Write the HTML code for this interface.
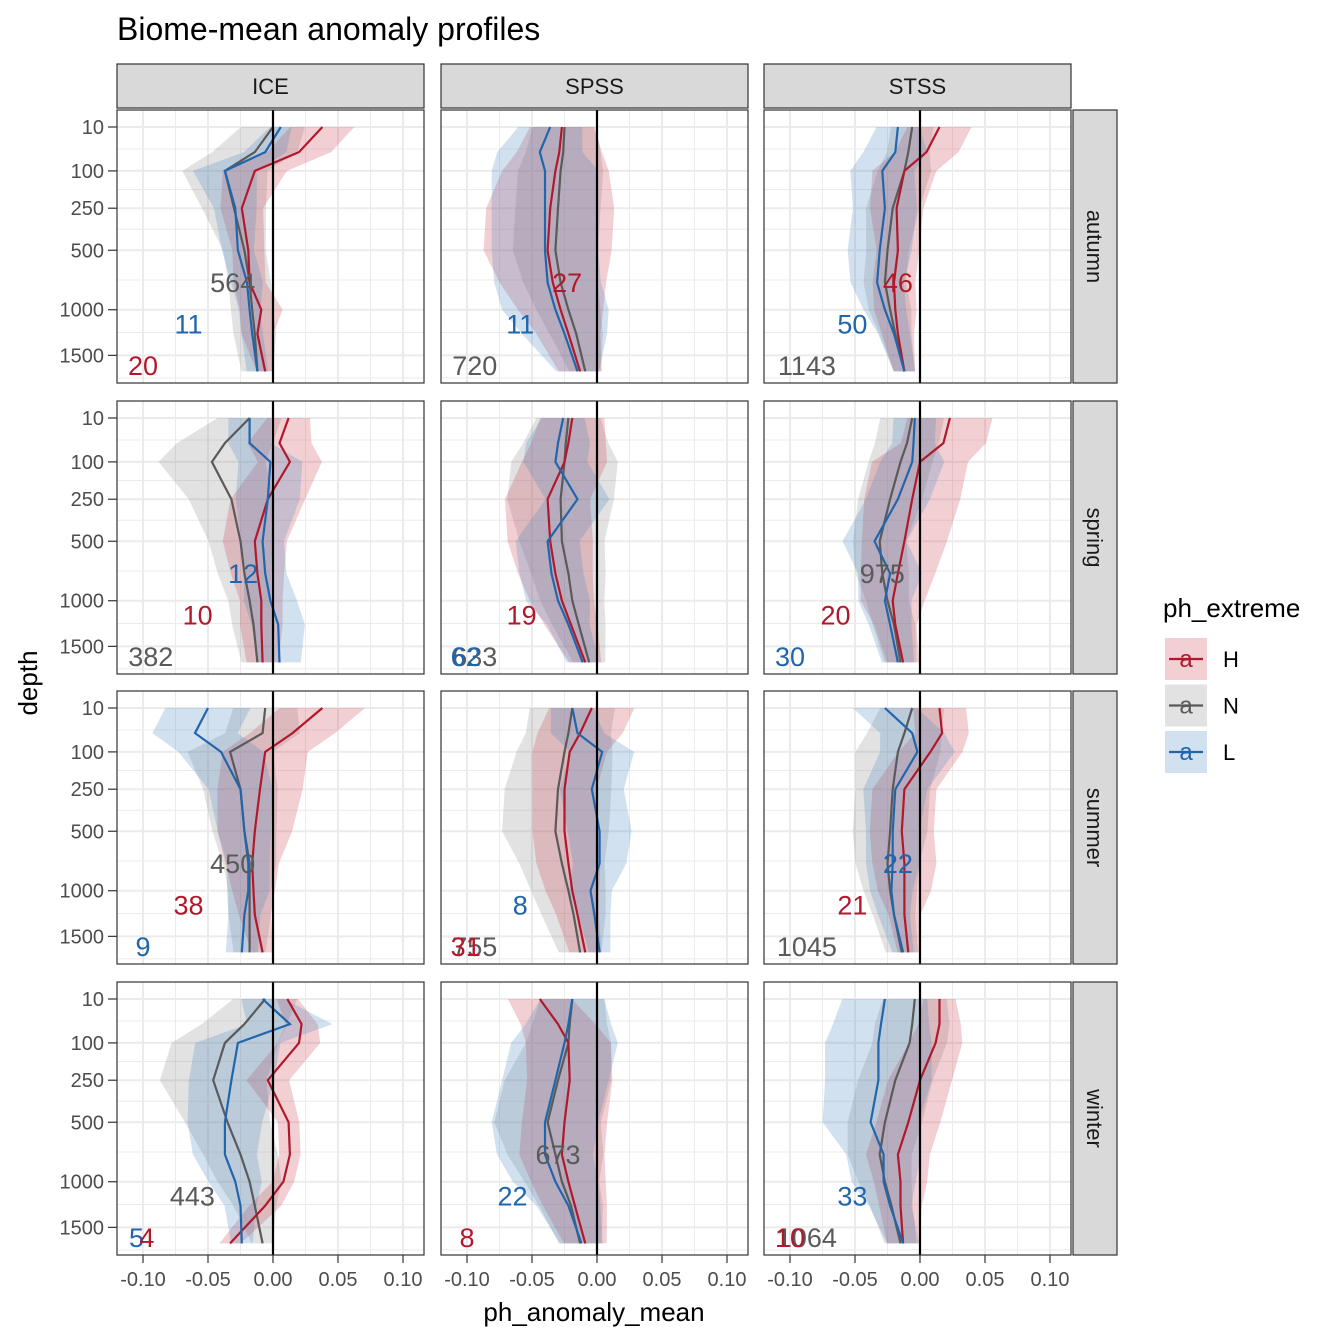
<!DOCTYPE html>
<html><head><meta charset="utf-8"><style>
body{margin:0;background:#fff;}
svg{display:block;font-family:"Liberation Sans",sans-serif;}
</style></head><body>
<svg id="chart" width="1344" height="1344" viewBox="0 0 1344 1344">
<rect width="1344" height="1344" fill="#fff"/>
<text x="117" y="40" font-size="32" fill="#000">Biome-mean anomaly profiles</text>
<text x="594" y="1321" font-size="26" text-anchor="middle" fill="#000">ph_anomaly_mean</text>
<text transform="translate(37,683) rotate(-90)" font-size="26" text-anchor="middle" fill="#000">depth</text>
<g id="panels"></g>
<g id="legend"></g>
</svg>
<script>
const depths = [10, 50, 100, 250, 500, 750, 1000, 1250, 1700];
const biomes = ["ICE", "SPSS", "STSS"];
const seasons = ["autumn", "spring", "summer", "winter"];
const groups = ["H", "N", "L"];
const xTicks = [-0.10, -0.05, 0.00, 0.05, 0.10];
const xTickLabels = ["-0.10", "-0.05", "0.00", "0.05", "0.10"];
const yTicks = [10, 100, 250, 500, 1000, 1500];

const meanAutumnICE = {H:[0.038,0.02,-0.014,-0.024,-0.019,-0.018,-0.009,-0.012,-0.006], N:[0,-0.014,-0.037,-0.03,-0.022,-0.018,-0.016,-0.014,-0.012], L:[0.006,-0.006,-0.037,-0.029,-0.027,-0.02,-0.018,-0.016,-0.012]};
const sdAutumnICE = {H:[0.03,0.03,0.03,0.02,0.015,0.015,0.02,0.015,0.008], N:[0.03,0.04,0.04,0.03,0.02,0.02,0.02,0.02,0.015], L:[0.01,0.02,0.03,0.02,0.015,0.015,0.01,0.01,0.01]};
const meanAutumnSPSS = {H:[-0.027,-0.029,-0.032,-0.036,-0.038,-0.034,-0.028,-0.022,-0.013], N:[-0.025,-0.026,-0.028,-0.03,-0.032,-0.028,-0.022,-0.016,-0.009], L:[-0.036,-0.044,-0.04,-0.04,-0.04,-0.038,-0.032,-0.025,-0.015]};
const sdAutumnSPSS = {H:[0.03,0.04,0.05,0.06,0.06,0.05,0.04,0.03,0.02], N:[0.03,0.035,0.04,0.04,0.04,0.035,0.03,0.025,0.015], L:[0.03,0.04,0.05,0.05,0.05,0.05,0.05,0.04,0.02]};
const meanAutumnSTSS = {H:[0.015,0.005,-0.012,-0.018,-0.017,-0.02,-0.019,-0.017,-0.012], N:[-0.006,-0.009,-0.012,-0.021,-0.025,-0.027,-0.023,-0.019,-0.012], L:[-0.017,-0.019,-0.029,-0.027,-0.031,-0.033,-0.027,-0.02,-0.012]};
const sdAutumnSTSS = {H:[0.03,0.03,0.03,0.025,0.02,0.02,0.02,0.015,0.01], N:[0.02,0.02,0.025,0.025,0.02,0.02,0.02,0.015,0.01], L:[0.02,0.03,0.03,0.03,0.03,0.025,0.02,0.015,0.01]};
const meanSpringICE = {H:[0.012,0.005,0.013,-0.004,-0.014,-0.012,-0.009,-0.009,-0.008], N:[-0.018,-0.037,-0.047,-0.032,-0.025,-0.022,-0.018,-0.015,-0.012], L:[-0.018,-0.018,-0.002,-0.004,-0.008,-0.006,-0.002,0.004,0.005]};
const sdSpringICE = {H:[0.02,0.03,0.03,0.035,0.03,0.025,0.02,0.02,0.015], N:[0.03,0.045,0.05,0.04,0.03,0.025,0.02,0.02,0.015], L:[0.02,0.02,0.03,0.03,0.02,0.02,0.025,0.025,0.02]};
const meanSpringSPSS = {H:[-0.019,-0.022,-0.025,-0.038,-0.036,-0.032,-0.027,-0.02,-0.009], N:[-0.022,-0.024,-0.025,-0.028,-0.027,-0.022,-0.019,-0.014,-0.006], L:[-0.026,-0.03,-0.032,-0.015,-0.038,-0.035,-0.03,-0.022,-0.011]};
const sdSpringSPSS = {H:[0.03,0.035,0.04,0.04,0.04,0.035,0.03,0.025,0.015], N:[0.03,0.04,0.05,0.05,0.04,0.035,0.03,0.025,0.015], L:[0.02,0.03,0.03,0.03,0.03,0.03,0.03,0.02,0.015]};
const meanSpringSTSS = {H:[0.023,0.018,0,-0.006,-0.012,-0.017,-0.021,-0.019,-0.013], N:[-0.006,-0.01,-0.015,-0.023,-0.031,-0.029,-0.025,-0.02,-0.015], L:[-0.004,-0.005,-0.006,-0.017,-0.035,-0.023,-0.027,-0.023,-0.017]};
const sdSpringSTSS = {H:[0.04,0.04,0.045,0.045,0.04,0.035,0.03,0.02,0.015], N:[0.03,0.03,0.03,0.03,0.025,0.025,0.02,0.02,0.015], L:[0.02,0.02,0.03,0.03,0.03,0.03,0.025,0.02,0.015]};
const meanSummerICE = {H:[0.038,0.015,-0.006,-0.01,-0.014,-0.016,-0.015,-0.014,-0.008], N:[-0.006,-0.008,-0.033,-0.025,-0.022,-0.018,-0.018,-0.018,-0.018], L:[-0.05,-0.06,-0.04,-0.025,-0.022,-0.019,-0.019,-0.022,-0.024]};
const sdSummerICE = {H:[0.04,0.04,0.04,0.04,0.035,0.025,0.02,0.015,0.01], N:[0.03,0.035,0.04,0.035,0.03,0.025,0.02,0.02,0.015], L:[0.04,0.04,0.04,0.03,0.025,0.02,0.02,0.015,0.015]};
const meanSummerSPSS = {H:[-0.004,-0.013,-0.021,-0.025,-0.025,-0.022,-0.019,-0.015,-0.009], N:[-0.019,-0.022,-0.025,-0.03,-0.032,-0.027,-0.022,-0.018,-0.013], L:[-0.019,-0.015,0.004,-0.004,0.002,0.002,-0.005,-0.002,0.002]};
const sdSummerSPSS = {H:[0.04,0.04,0.035,0.03,0.03,0.03,0.025,0.02,0.015], N:[0.04,0.04,0.045,0.05,0.05,0.04,0.035,0.03,0.02], L:[0.02,0.025,0.03,0.03,0.03,0.025,0.02,0.015,0.01]};
const meanSummerSTSS = {H:[0.015,0.017,0.008,-0.012,-0.014,-0.012,-0.012,-0.012,-0.009], N:[-0.006,-0.012,-0.017,-0.021,-0.023,-0.025,-0.023,-0.02,-0.014], L:[-0.027,-0.006,-0.002,-0.019,-0.021,-0.021,-0.022,-0.02,-0.013]};
const sdSummerSTSS = {H:[0.025,0.025,0.03,0.03,0.03,0.03,0.025,0.015,0.01], N:[0.03,0.035,0.04,0.035,0.035,0.03,0.025,0.02,0.015], L:[0.03,0.03,0.035,0.03,0.025,0.025,0.02,0.015,0.01]};
const meanWinterICE = {H:[0.011,0.022,0.02,-0.004,0.012,0.013,0.008,-0.006,-0.033], N:[-0.006,-0.022,-0.037,-0.046,-0.035,-0.025,-0.018,-0.014,-0.008], L:[-0.008,0.013,-0.027,-0.032,-0.037,-0.037,-0.029,-0.025,-0.024]};
const sdWinterICE = {H:[0.01,0.015,0.02,0.02,0.01,0.01,0.01,0.015,0.01], N:[0.03,0.04,0.05,0.05,0.04,0.035,0.03,0.02,0.01], L:[0.02,0.04,0.04,0.04,0.035,0.03,0.025,0.015,0.01]};
const meanWinterSPSS = {H:[-0.044,-0.03,-0.022,-0.021,-0.025,-0.027,-0.022,-0.017,-0.009], N:[-0.019,-0.021,-0.022,-0.03,-0.038,-0.032,-0.027,-0.02,-0.013], L:[-0.019,-0.022,-0.025,-0.032,-0.04,-0.04,-0.032,-0.022,-0.012]};
const sdWinterSPSS = {H:[0.03,0.035,0.04,0.04,0.04,0.04,0.035,0.03,0.02], N:[0.03,0.035,0.04,0.05,0.05,0.045,0.035,0.03,0.02], L:[0.03,0.04,0.05,0.05,0.05,0.045,0.04,0.03,0.02]};
const meanWinterSTSS = {H:[0.015,0.015,0.012,0,-0.009,-0.017,-0.015,-0.015,-0.013], N:[-0.004,-0.006,-0.008,-0.019,-0.027,-0.031,-0.027,-0.022,-0.015], L:[-0.027,-0.03,-0.032,-0.032,-0.038,-0.028,-0.028,-0.023,-0.013]};
const sdWinterSTSS = {H:[0.015,0.02,0.025,0.03,0.03,0.03,0.025,0.02,0.015], N:[0.03,0.035,0.035,0.035,0.035,0.03,0.025,0.02,0.015], L:[0.04,0.045,0.05,0.05,0.045,0.035,0.03,0.02,0.015]};

const means = {autumn:{ICE:meanAutumnICE,SPSS:meanAutumnSPSS,STSS:meanAutumnSTSS}, spring:{ICE:meanSpringICE,SPSS:meanSpringSPSS,STSS:meanSpringSTSS}, summer:{ICE:meanSummerICE,SPSS:meanSummerSPSS,STSS:meanSummerSTSS}, winter:{ICE:meanWinterICE,SPSS:meanWinterSPSS,STSS:meanWinterSTSS}};
const sds = {autumn:{ICE:sdAutumnICE,SPSS:sdAutumnSPSS,STSS:sdAutumnSTSS}, spring:{ICE:sdSpringICE,SPSS:sdSpringSPSS,STSS:sdSpringSTSS}, summer:{ICE:sdSummerICE,SPSS:sdSummerSPSS,STSS:sdSummerSTSS}, winter:{ICE:sdWinterICE,SPSS:sdWinterSPSS,STSS:sdWinterSTSS}};

const countLabels = {
 autumn:{ICE:[["N","564",-0.031,0],["L","11",-0.065,1],["H","20",-0.10,2]], SPSS:[["H","27",-0.023,0],["L","11",-0.059,1],["N","720",-0.094,2]], STSS:[["H","46",-0.017,0],["L","50",-0.052,1],["N","1143",-0.087,2]]},
 spring:{ICE:[["L","12",-0.023,0],["H","10",-0.058,1],["N","382",-0.094,2]], SPSS:[["H","19",-0.058,1],["N","633",-0.094,2],["L","62",-0.101,2]], STSS:[["N","975",-0.029,0],["H","20",-0.065,1],["L","30",-0.10,2]]},
 summer:{ICE:[["N","450",-0.031,0],["H","38",-0.065,1],["L","9",-0.10,2]], SPSS:[["L","8",-0.059,1],["N","755",-0.094,2],["H","31",-0.101,2]], STSS:[["L","22",-0.017,0],["H","21",-0.052,1],["N","1045",-0.087,2]]},
 winter:{ICE:[["N","443",-0.062,1],["L","5",-0.105,2],["H","4",-0.097,2]], SPSS:[["N","673",-0.030,0],["L","22",-0.065,1],["H","8",-0.10,2]], STSS:[["L","33",-0.052,1],["N","1064",-0.087,2],["H","10",-0.10,2]]}
};

const colors = {H:"#B2182B", N:"#5a5a5a", L:"#2166AC"};
const fills = {H:"#C8404F", N:"#8a8a8a", L:"#4A86C0"};
const colLeft = [117, 441, 764], rowTop = [110, 401, 691, 982], PW = 307, PH = 273;
const NS = "http://www.w3.org/2000/svg";
const root = document.getElementById("panels");
function mk(tag, attrs, parent){ const e=document.createElementNS(NS,tag); for(const k in attrs) e.setAttribute(k,attrs[k]); (parent||root).appendChild(e); return e; }
function xScale(c){ return v => colLeft[c] + (v + 0.12) * 1300; }
function yScale(r){ return d => rowTop[r] + 17 + (Math.sqrt(d) - Math.sqrt(10)) * 6.42; }
const ribbonScale = 0.82;

const defs = mk("defs", {});
seasons.forEach((s, r) => biomes.forEach((b, c) => {
  const cp = mk("clipPath", {id:`cp${r}${c}`}, defs);
  mk("rect", {x:colLeft[c], y:rowTop[r], width:PW, height:PH}, cp);
}));

seasons.forEach((s, r) => {
  biomes.forEach((b, c) => {
    const X = xScale(c), Y = yScale(r);
    const g = mk("g", {});
    
    
    const bg = mk("rect", {x:colLeft[c], y:rowTop[r], width:PW, height:PH, fill:"#fff"}, g);
    
    
    for (let v=-0.125; v<=0.13; v+=0.05) { const px=X(v); if(px>colLeft[c]&&px<colLeft[c]+PW) mk("line",{x1:px,x2:px,y1:rowTop[r],y2:rowTop[r]+PH,stroke:"#ebebeb","stroke-width":1},g); }
    const yMinor=[]; const sq=yTicks.map(Math.sqrt);
    for(let i=0;i<sq.length-1;i++) yMinor.push(Math.pow((sq[i]+sq[i+1])/2,2));
    yMinor.push(Math.pow(Math.sqrt(1500)+3.5,2));
    yMinor.forEach(d=>{const py=Y(d); if(py>rowTop[r]&&py<rowTop[r]+PH) mk("line",{x1:colLeft[c],x2:colLeft[c]+PW,y1:py,y2:py,stroke:"#ebebeb","stroke-width":1},g);});
    xTicks.forEach(v=>mk("line",{x1:X(v),x2:X(v),y1:rowTop[r],y2:rowTop[r]+PH,stroke:"#ebebeb","stroke-width":2},g));
    yTicks.forEach(d=>mk("line",{x1:colLeft[c],x2:colLeft[c]+PW,y1:Y(d),y2:Y(d),stroke:"#ebebeb","stroke-width":2},g));
    const cg = mk("g", {"clip-path":`url(#cp${r}${c})`}, g);
    const M = means[s][b], W = sds[s][b];
    ["N","H","L"].forEach(k => {
      const hi = depths.map((d,i)=>`${X(M[k][i]+W[k][i]*ribbonScale).toFixed(1)},${Y(d).toFixed(1)}`);
      const lo = depths.map((d,i)=>`${X(M[k][i]-W[k][i]*ribbonScale).toFixed(1)},${Y(d).toFixed(1)}`).reverse();
      const rib = mk("polygon", {points:hi.concat(lo).join(" "), fill:fills[k], "fill-opacity":0.25}, cg);
      
      
    });
    ["N","H","L"].forEach(k => {
      const pts = depths.map((d,i)=>`${X(M[k][i]).toFixed(1)},${Y(d).toFixed(1)}`).join(" ");
      const ln = mk("polyline", {points:pts, fill:"none", stroke:colors[k], "stroke-width":2.2}, cg);
      
      
    });
    mk("line",{x1:X(0),x2:X(0),y1:rowTop[r],y2:rowTop[r]+PH,stroke:"#000","stroke-width":2.2},g);
    countLabels[s][b].forEach(([k,t,v,row]) => {
      const tx = mk("text",{x:X(v),y:rowTop[r]+182+row*41.5,"font-size":27,"text-anchor":"middle",fill:colors[k]},g);
      tx.textContent = t;
      
      
    });
    mk("rect",{x:colLeft[c],y:rowTop[r],width:PW,height:PH,fill:"none",stroke:"#333","stroke-width":1.2},g);
    if (c===0) yTicks.forEach(d=>{
      mk("line",{x1:108,x2:117,y1:Y(d),y2:Y(d),stroke:"#333","stroke-width":1.2});
      const t=mk("text",{x:104,y:Y(d)+7,"font-size":20,"text-anchor":"end",fill:"#4d4d4d"}); t.textContent=d;
      
      
    });
    if (r===3) xTicks.forEach((v,i)=>{
      mk("line",{x1:X(v),x2:X(v),y1:1255,y2:1263,stroke:"#333","stroke-width":1.2});
      const t=mk("text",{x:X(v),y:1286,"font-size":20,"text-anchor":"middle",fill:"#4d4d4d"}); t.textContent=xTickLabels[i];
      
      
    });
  });
});
biomes.forEach((b,c)=>{
  mk("rect",{x:colLeft[c],y:64,width:PW,height:44,fill:"#d9d9d9",stroke:"#333","stroke-width":1.2});
  const t=mk("text",{x:colLeft[c]+PW/2,y:94,"font-size":22,"text-anchor":"middle",fill:"#1a1a1a"}); t.textContent=b;
  
  
});
seasons.forEach((s,r)=>{
  mk("rect",{x:1073,y:rowTop[r],width:44,height:PH,fill:"#d9d9d9",stroke:"#333","stroke-width":1.2});
  const cy=rowTop[r]+PH/2;
  const t=mk("text",{transform:`translate(1087,${cy}) rotate(90)`,"font-size":22,"text-anchor":"middle",fill:"#1a1a1a"}); t.textContent=s;
  
  
});
const lg=document.getElementById("legend");
const lt=mk("text",{x:1163,y:617,"font-size":26,fill:"#000"},lg); lt.textContent="ph_extreme";


groups.forEach((k,i)=>{
  const y0=638+i*46.5;
  const e=mk("g",{},lg);
  
  
  mk("rect",{x:1165,y:y0,width:42,height:42,fill:fills[k],"fill-opacity":0.25},e);
  mk("line",{x1:1169,x2:1203,y1:y0+21,y2:y0+21,stroke:colors[k],"stroke-width":2.2},e);
  const a=mk("text",{x:1186,y:y0+29,"font-size":24,"text-anchor":"middle",fill:colors[k]},e); a.textContent="a";
  const t=mk("text",{x:1223,y:y0+29,"font-size":22,fill:"#000"},e); t.textContent=k;
});
</script>
</body></html>
